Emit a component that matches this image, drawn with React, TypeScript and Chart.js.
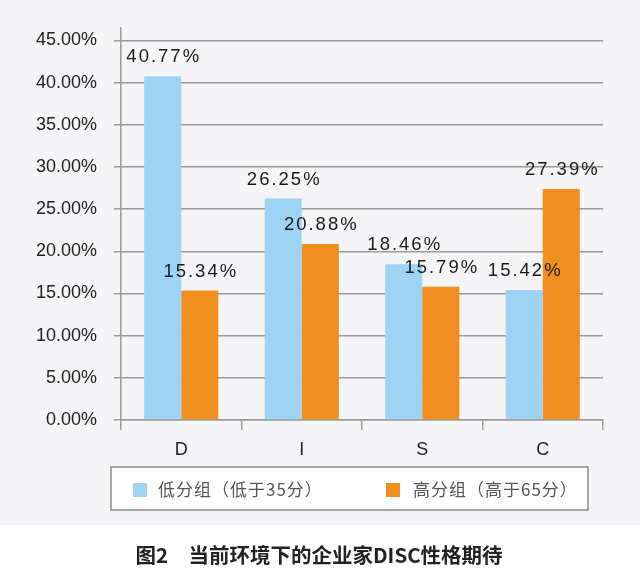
import { useEffect, useRef } from "react";
import { Chart, registerables } from "chart.js";

Chart.register(...registerables);

const categories = ["D", "I", "S", "C"];
const lowGroup = [40.77, 26.25, 18.46, 15.42];
const highGroup = [15.34, 20.88, 15.79, 27.39];
const seriesNames = ["低分组（低于35分）", "高分组（高于65分）"];
const seriesColors = ["#9dd4f3", "#f08f1f"];
const caption = "图2\u3000当前环境下的企业家DISC性格期待";

const LATIN = "'Liberation Sans', Arial, sans-serif";
const CJK = "'Noto Sans CJK SC', 'Noto Sans', sans-serif";

const bgPlugin = {
  id: "bgPlugin",
  beforeDraw(chart: any) {
    const ctx = chart.ctx;
    ctx.save();
    ctx.fillStyle = "#ffffff";
    ctx.fillRect(0, 0, chart.width, chart.height);
    ctx.fillStyle = "#f5f5f7";
    ctx.fillRect(0, 0, chart.width, 525);
    ctx.restore();
  },
};

const valueLabels = {
  id: "valueLabels",
  afterDatasetsDraw(chart: any) {
    const ctx = chart.ctx;
    ctx.save();
    ctx.font = `18.5px ${LATIN}`;
    ctx.fillStyle = "#1a1a1a";
    ctx.textAlign = "center";
    ctx.textBaseline = "alphabetic";
    try {
      (ctx as any).letterSpacing = "2px";
    } catch (e) {}
    chart.data.datasets.forEach((ds: any, di: number) => {
      const meta = chart.getDatasetMeta(di);
      meta.data.forEach((bar: any, i: number) => {
        const v = ds.data[i] as number;
        ctx.fillText(v.toFixed(2) + "%", bar.x + 1, bar.y - 14);
      });
    });
    ctx.restore();
  },
};

const legendAndCaption = {
  id: "legendAndCaption",
  afterDraw(chart: any) {
    const ctx = chart.ctx;
    ctx.save();
    // legend box
    ctx.fillStyle = "#ffffff";
    ctx.fillRect(111, 467, 477, 43);
    ctx.strokeStyle = "#8a8a8a";
    ctx.lineWidth = 1.5;
    ctx.strokeRect(111, 467, 477, 43);
    const items = [
      { sx: 133, tx: 158 },
      { sx: 386, tx: 413 },
    ];
    ctx.font = `17px ${CJK}`;
    ctx.textBaseline = "middle";
    ctx.textAlign = "left";
    try {
      (ctx as any).letterSpacing = "1px";
    } catch (e) {}
    chart.data.datasets.forEach((ds: any, i: number) => {
      const it = items[i];
      ctx.fillStyle = ds.backgroundColor;
      ctx.fillRect(it.sx, 483, 14, 14);
      ctx.fillStyle = "#555555";
      ctx.fillText(ds.label, it.tx, 490);
    });
    try {
      (ctx as any).letterSpacing = "0px";
    } catch (e) {}
    // caption
    ctx.font = `bold 20.5px ${CJK}`;
    ctx.fillStyle = "#222222";
    ctx.textAlign = "center";
    ctx.fillText(caption, 319, 555);
    ctx.restore();
  },
};

export default function App() {
  const ref = useRef<HTMLCanvasElement | null>(null);

  useEffect(() => {
    if (!ref.current) return;
    const chart = new Chart(ref.current, {
      type: "bar",
      data: {
        labels: categories,
        datasets: [
          {
            label: seriesNames[0],
            data: lowGroup,
            backgroundColor: seriesColors[0],
            categoryPercentage: 0.615,
            barPercentage: 1,
          },
          {
            label: seriesNames[1],
            data: highGroup,
            backgroundColor: seriesColors[1],
            categoryPercentage: 0.615,
            barPercentage: 1,
          },
        ],
      },
      options: {
        responsive: false,
        animation: false,
        devicePixelRatio: 1,
        layout: { padding: { top: 24, right: 37, bottom: 110, left: 0 } },
        plugins: {
          legend: { display: false },
          tooltip: { enabled: false },
          title: { display: false },
        },
        scales: {
          x: {
            grid: {
              display: true,
              drawOnChartArea: false,
              drawTicks: true,
              tickLength: 10,
              color: "#9a9a9a",
              lineWidth: 1.5,
              offset: true,
            },
            border: { display: true, color: "#9a9a9a", width: 1.5 },
            ticks: {
              color: "#222222",
              font: { size: 18, family: LATIN },
              padding: 9,
            },
            afterFit(scale: any) {
              scale.height = 40;
            },
          },
          y: {
            min: 0,
            max: 46.5,
            grid: {
              color: "#9a9a9a",
              lineWidth: 1.5,
              tickLength: 7,
              drawTicks: true,
            },
            border: { display: true, color: "#9a9a9a", width: 1.5 },
            ticks: {
              stepSize: 5,
              includeBounds: false,
              color: "#222222",
              font: { size: 18, family: LATIN },
              padding: 17,
              callback: (v: any) => Number(v).toFixed(2) + "%",
            },
            afterFit(scale: any) {
              scale.width = 121;
            },
          },
        },
      },
      plugins: [bgPlugin, valueLabels, legendAndCaption],
    });
    return () => chart.destroy();
  }, []);

  return (
    <div style={{ position: "absolute", left: 0, top: 0, width: 640, height: 570 }}>
      <canvas ref={ref} width={640} height={570} style={{ display: "block" }} />
    </div>
  );
}
